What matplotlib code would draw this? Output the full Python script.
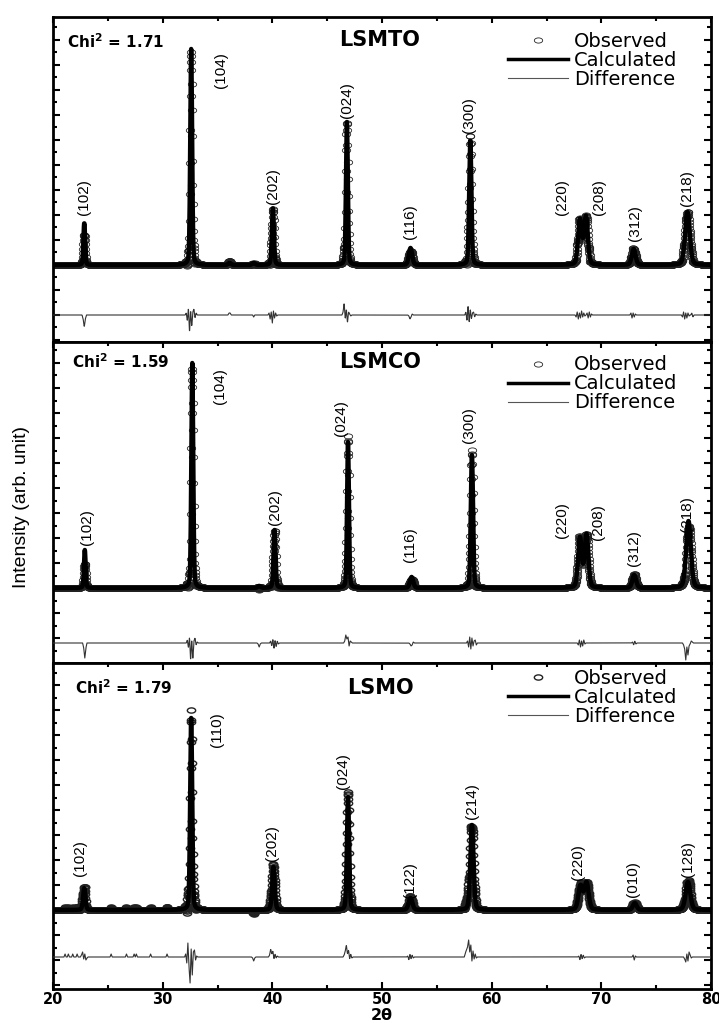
import numpy as np
import matplotlib.pyplot as plt
from matplotlib.markers import MarkerStyle
from matplotlib.transforms import Affine2D
from matplotlib.ticker import MultipleLocator
from matplotlib.lines import Line2D

# ---- data (intensity in arb. units) ----
names = ['LSMTO', 'LSMCO', 'LSMO']
chi2 = ['1.71', '1.59', '1.79']

# peak position (2theta), height, fwhm
peak_pos = [
    [22.85, 32.6, 36.1, 38.3, 40.05, 46.8, 52.6, 58.05, 68.05, 68.6, 72.95, 77.85],
    [22.9, 32.7, 38.8, 40.2, 46.9, 52.7, 58.2, 68.05, 68.65, 73.0, 77.95],
    [22.85, 32.6, 40.1, 46.9, 52.6, 58.2, 68.1, 68.65, 73.05, 77.9],
]
peak_h = [
    [42, 216, 2, 2, 57, 143, 17, 125, 45, 48, 16, 53],
    [38, 225, 2, 58, 146, 11, 133, 50, 53, 13, 67],
    [22, 192, 43, 113, 12, 85, 24, 27, 7, 28],
]
peak_w = [
    [0.18, 0.2, 0.3, 0.3, 0.22, 0.2, 0.35, 0.24, 0.4, 0.4, 0.4, 0.5],
    [0.18, 0.2, 0.3, 0.22, 0.2, 0.35, 0.24, 0.4, 0.4, 0.4, 0.5],
    [0.25, 0.22, 0.28, 0.24, 0.4, 0.34, 0.45, 0.45, 0.4, 0.5],
]

# difference features: centre and values, one every 0.1 deg
diff_pos = [
    [22.85, 32.6, 36.1, 38.3, 40.05, 46.8, 52.6, 58.1, 68.1, 68.9, 72.9, 77.7, 78.3],
    [22.9, 32.7, 38.8, 40.2, 46.9, 52.7, 58.2, 68.2, 73.0, 77.9],
    [21.1, 21.4, 21.8, 22.2, 25.3, 26.7, 27.4, 27.6, 28.9, 30.4,
     22.85, 32.6, 38.3, 40.1, 46.9, 52.6, 58.1, 68.2, 73.0, 77.9],
]
diff_vals = [
    [[-4, -12, -4], [2, -6, 7, -18, 5, -12, 3, 6, -3, 2], [2, 2], [-2],
     [2, -4, 3, -8, 4, -3, 2, -1], [3, 12, -4, 6, -8, 3, 1, -1], [-1, -4, -2, 1],
     [3, -6, 10, -8, 6, -4, 2, 3, -2, 1], [-2, 3, -4, 2, -3, 4, -2, 2, -1], [2, -3, 3, -2, 1],
     [2, -3, 2, -2, 1], [-2, 3, -4, 2, -3, 2, -1], [2, -2]],
    [[-5, -15, -5], [3, -5, 6, -18, 4, -17, 2, 5, -2, 1], [-1, -4, -1],
     [2, -3, 4, -6, 3, -4, 2, -1], [2, 8, 4, 6, -3, 2, 1], [-1, -3, -2, 1],
     [2, -4, 6, -6, 5, -3, 2, 3, -2], [-2, 3, -4, 2, -3, 3, -1], [1, -2, 2, -1],
     [-2, -6, -17, -4, -12, -3, -1, 2, 1]],
    [[3], [3], [3], [3], [3], [3], [3], [3], [3], [3],
     [2, 5, -2, 3, -3, -1], [3, -6, 14, -10, -26, 8, -18, 5, 7, -3, 1], [-1, -4, -1],
     [2, 8, 3, 6, -2, 3, -1, 1], [2, 6, 12, 3, 7, -2, 3, -1], [1, -3, 3, -2, 2, -1],
     [4, 7, 10, 17, 5, 12, -4, 6, -2, 3, -1], [1, -3, 3, -2, 2, -1], [2, -3, 1],
     [-2, -5, 3, -4, 5, 2, -1]],
]

# hkl labels and where they sit
hkl = [
    ['(102)', '(104)', '(202)', '(024)', '(116)', '(300)', '(220)', '(208)', '(312)', '(218)'],
    ['(102)', '(104)', '(202)', '(024)', '(116)', '(300)', '(220)', '(208)', '(312)', '(218)'],
    ['(102)', '(110)', '(202)', '(024)', '(122)', '(214)', '(220)', '(010)', '(128)'],
]
hkl_x = [
    [22.83, 35.3, 40.06, 46.8, 52.55, 57.93, 66.4, 69.8, 73.07, 77.8],
    [23.1, 35.2, 40.25, 46.3, 52.55, 57.93, 66.4, 69.7, 73.0, 77.8],
    [22.46, 34.95, 39.95, 46.45, 52.55, 58.2, 67.87, 72.9, 77.9],
]
hkl_y = [
    [68, 195, 79, 165, 43, 150, 68, 68, 42, 77],
    [61, 202, 81, 170, 43, 163, 68, 66, 40, 74],
    [52, 180, 67, 139, 30, 109, 48, 31, 51],
]

ylims = [(-77, 248), (-75, 246), (-79, 247)]
diff_offset = [-50, -55, -47]

two_theta = np.arange(20, 80.0001, 0.02)
diff_step = 0.1


def profile(pos, h, w):
    y = np.zeros_like(two_theta)
    for p, a, f in zip(pos, h, w):
        g = np.exp(-4 * np.log(2) * ((two_theta - p) / f) ** 2)
        l = 1 / (1 + 4 * ((two_theta - p) / f) ** 2)
        y += a * (0.75 * g + 0.25 * l)
    return y


def difference(pos, vals):
    xs, ys = [], []
    for p, v in zip(pos, vals):
        n = len(v)
        off = (np.arange(-1, n + 1) - (n - 1) / 2) * diff_step
        xs.extend(p + off)
        ys.extend([0] + list(v) + [0])
    order = np.argsort(xs)
    return np.interp(two_theta, np.array(xs)[order], np.array(ys, float)[order], left=0, right=0)


plt.rcParams['font.family'] = ['DejaVu Sans']
plt.rcParams['mathtext.default'] = 'regular'

fig = plt.figure(figsize=(7.19, 10.23), dpi=100)
W, H = 719, 1023
left, right = 53, 711
panel_px = [(17, 342), (342, 663), (663, 989)]
leg_top = [0.955, 0.958, 0.982]
chi_xy = [(0.021, 0.923), (0.029, 0.938), (0.033, 0.923)]
title_y = [0.929, 0.938, 0.923]

circ = MarkerStyle('o', fillstyle='none', transform=Affine2D().scale(1.2, 0.75))

for k in range(3):
    top, bot = panel_px[k]
    ax = fig.add_axes([left / W, 1 - bot / H, (right - left) / W, (bot - top) / H])
    calc = profile(peak_pos[k], peak_h[k], peak_w[k])
    diff = difference(diff_pos[k], diff_vals[k])
    obs = calc + diff
    mew = 1.0 if k == 2 else 0.6
    ax.plot(two_theta, obs, ls='none', marker=circ, ms=5, mec='#222222', mew=mew, zorder=2)
    ax.plot(two_theta, calc, color='black', lw=3.2, zorder=3)
    ax.plot(two_theta, diff + diff_offset[k], color='#333333', lw=0.8, zorder=3)

    for t, x, y in zip(hkl[k], hkl_x[k], hkl_y[k]):
        ax.text(x, y, t, rotation=90, ha='center', va='center', fontsize=11,
                family='Liberation Sans')

    ax.text(chi_xy[k][0], chi_xy[k][1], 'Chi$^{\\mathbf{2}}$ = ' + chi2[k], transform=ax.transAxes,
            fontsize=11, fontweight='bold', ha='left', va='center')
    ax.text(0.497, title_y[k], names[k], transform=ax.transAxes, fontsize=15,
            fontweight='bold', ha='center', va='center')

    handles = [Line2D([], [], ls='none', marker=circ, ms=5, mec='#222222', mew=mew),
               Line2D([], [], color='black', lw=2.5),
               Line2D([], [], color='#555555', lw=0.8)]
    ax.legend(handles, ['Observed', 'Calculated', 'Difference'], loc='upper left',
              bbox_to_anchor=(0.6915, leg_top[k]), frameon=False, fontsize=14,
              borderpad=0, borderaxespad=0, handlelength=3.1, handletextpad=0.3,
              labelspacing=0.0, numpoints=1)

    ax.set_xlim(20, 80)
    ax.set_ylim(*ylims[k])
    ax.xaxis.set_major_locator(MultipleLocator(10))
    ax.xaxis.set_minor_locator(MultipleLocator(5))
    ax.yaxis.set_major_locator(MultipleLocator(25))
    ax.yaxis.set_minor_locator(MultipleLocator(12.5))
    for s in ax.spines.values():
        s.set_linewidth(2)
    ax.tick_params(axis='y', which='both', direction='in', left=True, right=True,
                   labelleft=False, width=1.5)
    ax.tick_params(axis='y', which='major', length=5)
    ax.tick_params(axis='y', which='minor', length=3)
    ax.tick_params(axis='x', which='both', top=True, direction='in', width=1.5)
    ax.tick_params(axis='x', which='major', length=4)
    ax.tick_params(axis='x', which='minor', length=3)
    if k < 2:
        ax.tick_params(axis='x', which='both', bottom=False, labelbottom=False)
    else:
        ax.tick_params(axis='x', which='both', bottom=True, labelbottom=True, pad=2)
        ax.tick_params(axis='x', which='major', length=5)
        for lb in ax.get_xticklabels():
            lb.set_fontweight('bold')
            lb.set_fontsize(10.5)

fig.text(382 / W, 1 - 1015 / H, '2θ', ha='center', va='center', fontsize=11.5, fontweight='bold')
fig.text(22 / W, 1 - 507 / H, 'Intensity (arb. unit)', rotation=90, ha='center', va='center',
         fontsize=14, family='Liberation Sans')

fig.savefig('out.png', dpi=100)
